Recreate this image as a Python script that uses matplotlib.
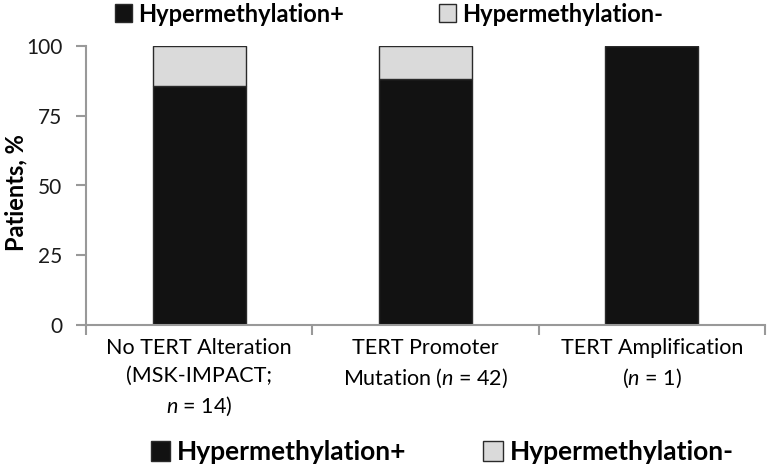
import numpy as np
import matplotlib
matplotlib.use("Agg")
import matplotlib.pyplot as plt
from matplotlib.patches import Patch

plt.rcParams['font.family'] = ['Lato', 'DejaVu Sans']
plt.rcParams['mathtext.fontset'] = 'custom'
plt.rcParams['mathtext.it'] = 'Lato:italic'
plt.rcParams['mathtext.rm'] = 'Lato'

categories = ["No TERT Alteration\n(MSK-IMPACT;\n$n$ = 14)",
              "TERT Promoter\nMutation ($n$ = 42)",
              "TERT Amplification\n($n$ = 1)"]
hyper_pos = [85.7, 88.1, 100.0]
hyper_neg = [14.3, 11.9, 0.0]
yticks = [0, 25, 50, 75, 100]

black = '#121212'
gray = '#dadada'
edge = '#2a2a2a'

fig = plt.figure(figsize=(7.68, 4.69), dpi=100)
ax = fig.add_axes([86 / 768, 1 - 325 / 469, (765 - 86) / 768, (325 - 46) / 469])

x = np.arange(len(categories))
w = 0.41
ax.bar(x, hyper_pos, w, color=black, edgecolor=edge, linewidth=1)
ax.bar(x, hyper_neg, w, bottom=hyper_pos, color=gray, edgecolor=edge, linewidth=1)

ax.set_xlim(-0.5, 2.5)
ax.set_ylim(0, 100)
ax.set_yticks(yticks)
ax.set_xticks([-0.5, 0.5, 1.5, 2.5])
ax.set_xticklabels([])
ax.set_xticks(x, minor=True)
ax.set_xticklabels(categories, minor=True, fontsize=15.5, linespacing=1.5)
ax.tick_params(axis='x', which='minor', length=0, pad=9)
ax.tick_params(axis='x', which='major', length=7, width=1.5, color='#999999', direction='out')
ax.tick_params(axis='y', length=7, width=1.5, color='#999999', labelsize=15, pad=10,
               labelcolor='#1a1a1a')
for side in ['top', 'right']:
    ax.spines[side].set_visible(False)
for side in ['left', 'bottom']:
    ax.spines[side].set_color('#999999')
    ax.spines[side].set_linewidth(1.5)
fig.text(16 / 768, 1 - 193 / 469, "Patients, %", fontsize=17, fontweight='bold',
         rotation=90, ha='center', va='center')

handles = [Patch(facecolor=black, edgecolor=edge, label='Hypermethylation+'),
           Patch(facecolor=gray, edgecolor=edge, label='Hypermethylation-')]
fig.legend(handles=handles, loc='center', bbox_to_anchor=(389 / 768, 1 - 14 / 469), ncol=2,
           frameon=False, prop={'size': 17, 'weight': 'bold'}, borderpad=0,
           handlelength=0.75, handleheight=0.8, handletextpad=0.25, columnspacing=4.0)
fig.legend(handles=handles, loc='center', bbox_to_anchor=(442 / 768, 1 - 452 / 469), ncol=2,
           frameon=False, prop={'size': 19, 'weight': 'bold'}, borderpad=0,
           handlelength=0.75, handleheight=0.8, handletextpad=0.25, columnspacing=2.9)

fig.savefig("out.png", dpi=100)
